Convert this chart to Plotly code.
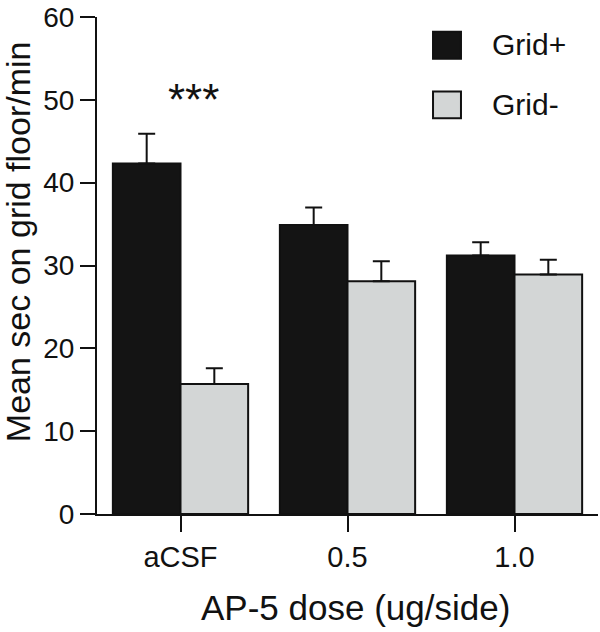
import plotly.graph_objects as go

categories = ["aCSF", "0.5", "1.0"]
series_names = ["Grid+", "Grid-"]
grid_plus = [42.3, 34.9, 31.2]
grid_plus_err = [3.6, 2.1, 1.6]
grid_minus = [15.7, 28.1, 28.9]
grid_minus_err = [1.9, 2.4, 1.8]
y_ticks = [0, 10, 20, 30, 40, 50, 60]
sig_label = "***"
x_title = "AP-5 dose (ug/side)"
y_title = "Mean sec on grid floor/min"

colors = ["#141414", "#d3d6d6"]
FONT = "Liberation Sans, Arial, Helvetica, sans-serif"
xpos = list(range(len(categories)))

fig = go.Figure()
for name, vals, errs, col in [
    (series_names[0], grid_plus, grid_plus_err, colors[0]),
    (series_names[1], grid_minus, grid_minus_err, colors[1]),
]:
    fig.add_trace(go.Bar(
        x=xpos, y=vals, name=name,
        marker=dict(color=col, line=dict(color="#111111", width=2)),
        error_y=dict(type="data", symmetric=False, array=errs,
                     arrayminus=[0] * len(errs), color="#111111",
                     thickness=2, width=8.5),
        showlegend=False,
    ))

fig.update_layout(
    width=600, height=632,
    margin=dict(l=97, r=2, t=13, b=118),
    paper_bgcolor="white", plot_bgcolor="white",
    barmode="group", bargap=0.19, bargroupgap=0,
    font=dict(family=FONT, color="#111111"),
    xaxis=dict(range=[-0.5, 2.5], tickvals=xpos, ticktext=categories,
               showline=True, linecolor="#111111", linewidth=2,
               ticks="outside", ticklen=16, tickwidth=2, tickcolor="#111111",
               tickfont=dict(size=29, family=FONT, color="#111111"),
               ticklabeloverflow="allow",
               showgrid=False, zeroline=False, fixedrange=True),
    yaxis=dict(range=[0, 60], tickvals=y_ticks,
               showline=True, linecolor="#111111", linewidth=2,
               ticks="outside", ticklen=15, tickwidth=2, tickcolor="#111111",
               tickfont=dict(size=28, family=FONT, color="#111111"),
               ticklabeloverflow="allow",
               showgrid=False, zeroline=False, fixedrange=True),
)

annotations = [
    dict(text=y_title, xref="paper", yref="paper", x=-0.1577, y=0.549,
         xanchor="center", yanchor="middle", textangle=-90, showarrow=False,
         font=dict(size=34, family=FONT, color="#111111")),
    dict(text=x_title, xref="paper", yref="paper", x=0.515, y=-0.1876,
         xanchor="center", yanchor="middle", showarrow=False,
         font=dict(size=35, family=FONT, color="#111111")),
    dict(text=sig_label, xref="x", yref="y", x=0.08, y=50.1,
         xanchor="center", yanchor="middle", showarrow=False,
         font=dict(size=44, family=FONT, color="#111111")),
]
legend_rows = [(0.9162, 0.9701, 0.9441), (0.7964, 0.8503, 0.8244)]
shapes = []
for (y0, y1, yc), name, col in zip(legend_rows, series_names, colors):
    shapes.append(dict(type="rect", xref="paper", yref="paper",
                       x0=0.6707, x1=0.7265, y0=y0, y1=y1,
                       fillcolor=col, line=dict(color="#111111", width=2)))
    annotations.append(dict(text=name, xref="paper", yref="paper", x=0.7844, y=yc,
                            xanchor="left", yanchor="middle", showarrow=False,
                            font=dict(size=30, family=FONT, color="#111111")))
fig.update_layout(annotations=annotations, shapes=shapes)

fig.write_html("out.html", config={"displayModeBar": False},
               post_script="document.body.style.margin='0';document.body.style.overflow='hidden';")
